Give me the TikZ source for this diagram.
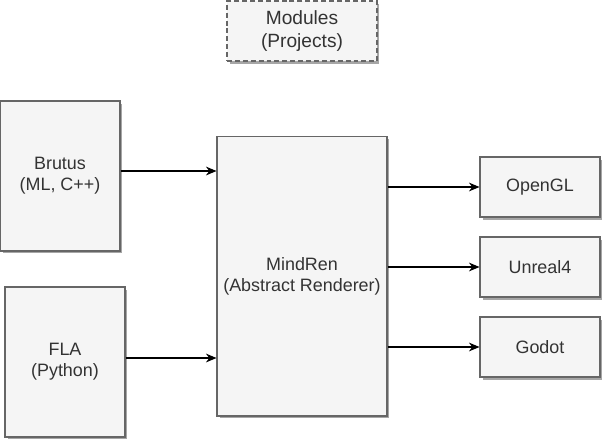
\documentclass[tikz,border=0pt]{standalone}
\usepackage{fontspec}
\setmainfont{Liberation Sans}
\usetikzlibrary{positioning,shadows,arrows.meta}

\definecolor{boxfill}{HTML}{F5F5F5}
\definecolor{boxline}{HTML}{666666}
\definecolor{boxtext}{HTML}{333333}

\begin{document}
\begin{tikzpicture}[x=0.02cm,y=-0.02cm]
		\useasboundingbox (0,0) rectangle (603,441);
		\tikzset{arr/.style={-{Stealth[length=6pt,width=5pt]},line width=0.6pt}}
		\begin{scope}[every node/.style={rectangle,draw=boxline,fill=boxfill,text=boxtext,line width=0.6pt,align=center,
				font=\fontsize{10.2}{12}\selectfont,inner sep=0pt,
				drop shadow={shadow xshift=0.05cm,shadow yshift=-0.05cm,fill=black!35,opacity=1}}]
			% Legend
			\node[line width=1.1pt,dash pattern=on 2.8pt off 1.7pt,minimum width=3cm,minimum height=1.2cm,
				font=\fontsize{10.9}{12.6}\selectfont] (modules) at (302,31) {Modules\\(Projects)};

			% Projects
			\node[minimum width=2.4cm,minimum height=3cm] (brutus) at (60,176) {Brutus\\(ML, C++)};
			\node[minimum width=2.4cm,minimum height=3cm] (fla) at (65,362) {FLA\\(Python)};

			% Renderer
			\node[minimum width=3.4cm,minimum height=5.6cm] (mindren) at (302,276) {MindRen\\(Abstract Renderer)};

			% Backends
			\node[minimum width=2.4cm,minimum height=1.2cm] (opengl) at (540,187) {OpenGL};
			\node[minimum width=2.4cm,minimum height=1.2cm] (unreal) at (540,267) {Unreal4};
			\node[minimum width=2.4cm,minimum height=1.2cm] (godot) at (540,347) {Godot};
		\end{scope}

		\draw[arr] ([yshift=0.1cm]brutus.east) -- ([yshift=0.1cm]brutus.east -| mindren.west);
		\draw[arr] ([yshift=0.08cm]fla.east) -- ([yshift=0.08cm]fla.east -| mindren.west);

		\draw[arr] (opengl.west -| mindren.east) -- (opengl.west);
		\draw[arr] (unreal.west -| mindren.east) -- (unreal.west);
		\draw[arr] (godot.west -| mindren.east) -- (godot.west);
	\end{tikzpicture}
\end{document}
